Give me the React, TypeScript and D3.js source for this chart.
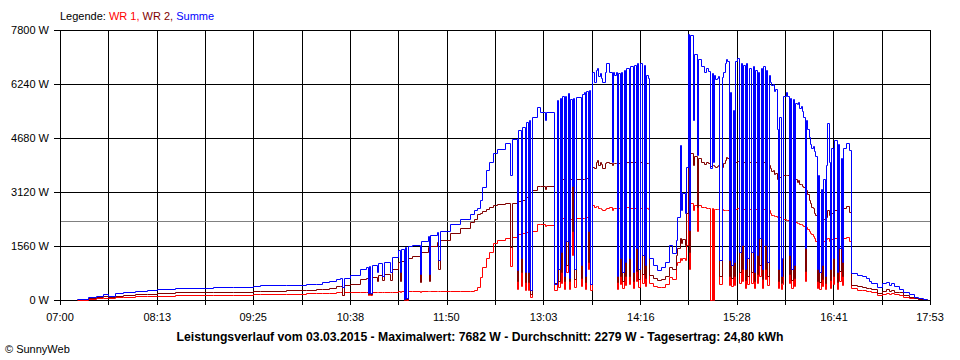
import React from "react";
import * as d3 from "d3";

// ---- data ----
const times: string[] = [
  // early morning
  "07:13","07:21","07:27","07:32","07:36","07:41","07:47","07:56","08:05","08:13","08:26","08:55","09:10","09:25","09:30","09:50","10:05","10:12","10:17","10:22","10:27",
  // late morning
  "10:30","10:32","10:33","10:38","10:45","10:50","10:51","10:52","10:53","10:54","10:58","10:59","11:02","11:03","11:08","11:09","11:14","11:15","11:16","11:18","11:19","11:20","11:21","11:24","11:30","11:31","11:36","11:37","11:38","11:43","11:44","11:45","11:53","12:00","12:08","12:11",
  // noon
  "12:13","12:15","12:17","12:20","12:22","12:25","12:28","12:34",
  "12:38","12:39","12:43","12:44","12:46","12:47","12:49","12:50",
  "12:51","12:52","12:53","12:54","12:58","13:00","13:04","13:05",
  // first cloudy block
  "13:11","13:13","13:14","13:15","13:16","13:17","13:18","13:19",
  "13:20","13:21","13:22","13:23","13:24","13:25","13:26","13:27",
  "13:31","13:32","13:33","13:34","13:35","13:36","13:37","13:38",
  "13:39","13:41","13:42","13:43","13:44","13:45","13:46","13:47","13:49","13:50","13:52",
  "13:54","13:55","13:56","13:57","13:58","13:59","14:00","14:01",
  "14:02","14:03","14:04","14:05","14:07","14:08","14:10","14:11",
  "14:12","14:13","14:14","14:15","14:17","14:18","14:19","14:20",
  "14:21","14:22",
  // dip
  "14:25","14:28","14:31","14:34","14:37","14:39","14:42",
  // second cloudy block
  "14:43","14:45","14:46","14:47","14:49","14:50","14:51","14:52",
  "14:53","14:55","14:56","14:58","14:59","15:01","15:03","15:05","15:06","15:08",
  "15:09","15:10","15:11","15:12","15:13","15:14","15:15","15:17","15:18","15:19","15:20","15:21",
  "15:22","15:23","15:24","15:25","15:26","15:27","15:28","15:30",
  "15:31","15:32","15:33","15:34","15:35","15:36","15:37","15:39",
  "15:40","15:41","15:42","15:43","15:44","15:45","15:46","15:47",
  "15:48","15:49","15:50","15:51","15:52","15:53","15:54","15:55","15:56","15:57","15:58",
  "15:59","16:00","16:01","16:02","16:03","16:05","16:06","16:07",
  "16:08","16:09","16:10","16:11","16:12","16:13","16:14","16:15","16:16","16:17","16:18",
  "16:19","16:20","16:21","16:22","16:23","16:24","16:25","16:26","16:27","16:28","16:29",
  "16:30","16:31","16:32","16:33","16:34","16:35","16:36","16:37",
  "16:38","16:39","16:40","16:41","16:43","16:44","16:45","16:46",
  "16:47","16:48","16:50","16:52","16:54",
  // evening
  "16:58","17:02","17:05","17:07","17:09","17:13","17:17","17:20","17:22","17:24","17:26","17:30","17:33","17:37","17:41","17:44","17:48","17:51",
];

const summe: number[] = [
  25,100,130,165,120,190,220,260,290,310,340,370,385,405,440,445,455,470,510,560,600,
  625,385,640,720,900,960,200,980,200,1000,820,1060,680,1110,820,1240,1440,800,1480,40,1540,60,1560,1590,750,1710,1850,760,1870,1970,1150,1990,2210,2330,2475,2600,
  2650,2890,3270,3760,4000,4240,4350,4530,
  3610,4640,870,4910,1210,5010,820,5150,
  820,5200,290,5300,5580,5440,5200,5440,
  450,5780,900,5850,1400,5900,700,5880,
  1700,5970,650,5800,3300,5850,900,5870,
  1000,5950,6020,700,6050,2000,6060,450,
  6600,6300,6650,6700,6480,6550,6420,6300,6600,6840,6600,
  4000,6580,6500,6600,700,6550,1200,6600,
  800,6650,1100,6700,1200,6750,800,6800,
  1500,6850,900,6850,1300,6800,1000,6500,
  6400,1200,
  1000,870,960,1110,1590,1350,1730,
  2400,4480,2600,3100,2500,3850,7682,2020,
  7650,5200,7100,4200,6950,6750,6600,6700,6620,3800,
  6550,4000,6500,6380,6420,6480,1150,6450,6600,6840,6950,6900,
  1150,6000,1000,5500,1100,6900,7000,1400,
  6850,1600,6800,900,6840,1200,6700,1400,
  6750,800,6650,1300,6600,1800,6700,900,
  6750,1600,6650,1100,6500,6300,6200,6250,6050,6100,4950,
  900,5300,700,1200,5900,6000,5900,1300,
  5850,900,5800,1000,5700,5650,5720,5560,5600,5450,5300,
  1500,5200,4950,4700,4500,4400,4450,4300,4150,900,3600,
  800,3200,1000,3500,700,3900,5100,4000,
  900,4400,1200,4620,800,4500,1500,4100,
  1100,4400,4530,4330,770,
  720,680,640,560,480,390,480,530,440,500,400,320,230,160,100,55,35,25,
];

const wr1: number[] = [
  5,30,60,70,55,85,100,115,115,120,135,140,150,160,165,170,190,200,205,210,220,
  225,140,225,230,230,230,140,230,140,230,230,230,230,235,235,240,250,245,250,0,250,10,250,255,240,255,260,250,260,265,250,265,265,265,270,290,
  385,670,960,1200,1400,1640,1730,1780,
  980,1830,320,1900,400,1950,300,1960,
  300,1970,100,2000,2210,2200,2150,2180,
  300,2300,380,2350,500,2360,330,2360,
  800,2370,320,2350,1300,2360,380,2360,
  400,2380,2380,330,2390,900,2400,300,
  2750,2700,2720,2730,2660,2650,2620,2600,2620,2670,2680,
  2600,2670,2650,2670,320,2660,450,2670,
  340,2680,420,2680,450,2670,350,2670,
  550,2680,380,2670,500,2660,400,2650,
  2640,480,
  400,370,380,450,670,600,1000,
  1100,1200,1150,1200,1150,1600,2980,900,
  2800,2600,2750,2000,2750,2700,2680,2670,2650,0,
  2650,0,2640,2620,2620,2630,450,2620,2600,2600,2610,2610,
  420,2600,400,2580,420,2620,2650,500,
  2650,550,2640,360,2650,450,2640,500,
  2650,340,2640,480,2620,700,2620,360,
  2620,600,2600,420,2590,2500,2450,2450,2420,2430,2400,
  360,2400,320,450,2330,2300,2300,480,
  2280,360,2260,400,2240,2220,2230,2200,2200,2180,2150,
  560,2100,2050,2000,1950,1900,1850,1800,1700,350,1700,
  330,1650,400,1700,320,1750,1800,1700,
  350,1750,450,1780,330,1780,550,1740,
  420,1800,1830,1700,350,
  300,280,260,250,230,145,175,210,185,200,170,150,100,70,45,30,25,15,
];

const wr2: number[] = [
  15,60,90,110,75,130,150,175,185,195,220,225,240,260,265,275,290,310,330,360,395,
  410,150,420,460,600,640,170,650,160,660,560,720,580,760,580,900,1100,560,1140,30,1180,40,1200,1260,520,1400,1540,540,1560,1680,900,1720,1925,2080,2260,2330,
  2480,2520,2560,2620,2680,2740,2760,2790,
  1540,2800,560,2850,800,2880,520,2980,
  520,3050,180,3180,3300,3280,3200,3300,
  480,3450,560,3480,800,3500,560,3500,
  1000,3520,540,3500,2000,3500,600,3500,
  650,3500,3510,520,3520,1100,3520,450,
  3850,3800,3980,4050,3900,4000,3930,3800,3950,4000,3960,
  3900,3950,3950,3960,520,3950,700,3980,
  560,3990,680,3990,700,3990,560,4000,
  850,4010,600,4000,760,3990,650,3950,
  3950,720,
  640,580,600,700,960,900,1300,
  1500,1800,1650,1750,1600,2500,4620,1400,
  4250,3900,4150,2700,4100,4000,3920,4000,3950,3880,
  3900,3900,3880,3850,3860,3900,700,3850,3950,4050,4120,4100,
  680,3900,650,3800,700,4000,4020,800,
  4000,900,4000,580,4010,700,4000,820,
  4000,540,3980,760,3970,1000,3980,600,
  3990,900,3960,700,3900,3800,3720,3750,3650,3680,3500,
  560,3550,500,700,3600,3620,3600,760,
  3580,580,3550,640,3500,3420,3460,3360,3350,3300,3250,
  850,3180,3050,2900,2800,2700,2650,2500,2450,560,2300,
  520,2200,620,2350,500,2400,2600,2450,
  580,2500,700,2600,520,2600,850,2550,
  700,2650,2720,2550,430,
  410,390,360,340,320,210,270,320,270,290,240,220,150,100,70,40,30,20,
];

const yTickValues = [0, 1560, 3120, 4680, 6240, 7800];
const xTickLabels = ["07:00","08:13","09:25","10:38","11:50","13:03","14:16","15:28","16:41","17:53"];
const xDomain = ["07:00", "17:53"];
const yMax = 7800;
const average = 2279;
const gridDivisions = 18;

const legendPrefix = "Legende: ";
const seriesNames = ["WR 1", "WR 2", "Summe"];
const seriesColors = ["#ff0000", "#800000", "#0000ff"];
const title =
  "Leistungsverlauf vom 03.03.2015 - Maximalwert: 7682 W - Durchschnitt: 2279 W - Tagesertrag: 24,80 kWh";
const copyright = "\u00a9 SunnyWeb";

const toMin = (s: string) => {
  const [h, m] = s.split(":").map(Number);
  return h * 60 + m;
};

export default function App() {
  const W = 960, H = 360;
  const L = 60, R = 930, T = 30, B = 300;
  const x = d3.scaleLinear().domain(xDomain.map(toMin)).range([L, R]);
  const y = d3.scaleLinear().domain([0, yMax]).range([B, T]);
  const px = (v: number) => Math.round(v) + 0.5;

  const n = Math.min(times.length, summe.length, wr1.length, wr2.length);
  const rows = d3.range(n).map((i) => ({ t: toMin(times[i]), s: summe[i], a: wr1[i], b: wr2[i] }));

  const mk = (acc: (d: any) => number) =>
    d3
      .line<any>()
      .x((d) => px(x(d.t)))
      .y((d) => px(y(acc(d))))
      .curve(d3.curveStepAfter)(rows) || "";

  const [d0, d1] = x.domain();
  const grid = d3.range(gridDivisions + 1).map((i) => d0 + (i * (d1 - d0)) / gridDivisions);

  const font = "'Liberation Sans', Arial, sans-serif";

  return (
    <svg
      width={W}
      height={H}
      viewBox={`0 0 ${W} ${H}`}
      style={{ position: "absolute", left: 0, top: 0, background: "#fff" }}
      fontFamily={font}
      fontSize={11}
    >
      <rect x={0} y={0} width={W} height={H} fill="#fff" />
      {/* legend */}
      <text x={L} y={20} fill="#000">
        <tspan>{legendPrefix}</tspan>
        {seriesNames.map((nm, i) => (
          <tspan key={nm} fill={seriesColors[i]}>
            {nm + (i < seriesNames.length - 1 ? ", " : "")}
          </tspan>
        ))}
      </text>

      {/* vertical grid + ticks */}
      {grid.map((g, i) => (
        <line key={"vx" + i} x1={px(x(g))} x2={px(x(g))} y1={T} y2={B + 5} stroke="#000" strokeWidth={1} shapeRendering="crispEdges" />
      ))}
      {/* horizontal grid + ticks */}
      {yTickValues.map((v) => (
        <line key={"hy" + v} x1={L - 6} x2={R + 1} y1={px(y(v))} y2={px(y(v))} stroke="#000" strokeWidth={1} shapeRendering="crispEdges" />
      ))}
      {yTickValues.map((v) => (
        <text key={"ty" + v} x={L - 11} y={y(v) + 4} textAnchor="end" fill="#000">
          {v + " W"}
        </text>
      ))}
      {xTickLabels.map((lb) => (
        <text key={"tx" + lb} x={x(toMin(lb))} y={321} textAnchor="middle" fill="#000">
          {lb}
        </text>
      ))}

      {/* average line */}
      <line x1={L + 1} x2={R} y1={px(y(average))} y2={px(y(average))} stroke="#808080" strokeWidth={1} shapeRendering="crispEdges" />

      {/* series */}
      <path d={mk((d) => d.a)} fill="none" stroke={seriesColors[0]} strokeWidth={1} />
      <path d={mk((d) => d.b)} fill="none" stroke={seriesColors[1]} strokeWidth={1} />
      <path d={mk((d) => d.s)} fill="none" stroke={seriesColors[2]} strokeWidth={1} />

      {/* title */}
      <text x={480} y={341} textAnchor="middle" fontWeight="bold" fontSize={12} textLength={607} lengthAdjust="spacingAndGlyphs" fill="#000">
        {title}
      </text>
      <text x={5} y={353} fill="#000">
        {copyright}
      </text>
    </svg>
  );
}
